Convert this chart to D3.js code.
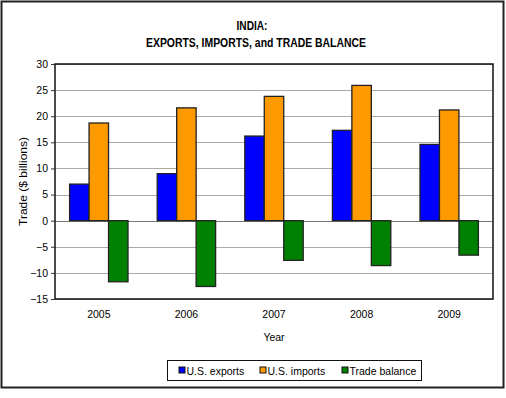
<!DOCTYPE html>
<html>
<head>
<meta charset="utf-8">
<script src="https://cdn.jsdelivr.net/npm/d3@7"></script>
<style>
  body { margin: 0; background: #fff; }
  svg { display: block; font-family: "Liberation Sans", Arial, sans-serif; }
</style>
</head>
<body>
<svg id="chart" width="506" height="398"></svg>
<script>
// data
var years = ["2005", "2006", "2007", "2008", "2009"];
var usExports = [7.0, 9.0, 16.2, 17.3, 14.6];
var usImports = [18.7, 21.6, 23.8, 25.9, 21.2];
var tradeBalance = [-11.7, -12.6, -7.6, -8.6, -6.6];
var seriesNames = ["U.S. exports", "U.S. imports", "Trade balance"];
var seriesColors = ["#0000ff", "#ff9900", "#008000"];
var yTicks = [-15, -10, -5, 0, 5, 10, 15, 20, 25, 30];

var svg = d3.select("#chart");
var margin = {left: 55, top: 64, right: 13, bottom: 99};
var W = 506, H = 398;
var pw = W - margin.left - margin.right, ph = H - margin.top - margin.bottom;

// outer frame
svg.append("rect").attr("x", 1.5).attr("y", 1.5).attr("width", 502).attr("height", 386)
   .attr("fill", "#fff").attr("stroke", "#222").attr("stroke-width", 2);

// title is a narrow face in the original, squeeze it a bit
svg.append("text").attr("x", 252).attr("y", 30).attr("text-anchor", "middle")
   .attr("textLength", 31).attr("lengthAdjust", "spacingAndGlyphs")
   .style("font-size", "12px").style("font-weight", "bold").text("INDIA:");
svg.append("text").attr("x", 256).attr("y", 47).attr("text-anchor", "middle")
   .attr("textLength", 220).attr("lengthAdjust", "spacingAndGlyphs")
   .style("font-size", "12px").style("font-weight", "bold").text("EXPORTS, IMPORTS, and TRADE BALANCE");

var g = svg.append("g").attr("transform", "translate(" + margin.left + "," + margin.top + ")");

var x0 = d3.scaleBand().domain(years).range([0, pw]).paddingInner(1/3).paddingOuter(1/6);
var x1 = d3.scaleBand().domain(d3.range(3)).range([0, x0.bandwidth()]);
var y = d3.scaleLinear().domain([-15, 30]).range([ph, 0]);

// gridlines
g.selectAll(".grid").data(yTicks).enter().append("line")
  .attr("x1", 0).attr("x2", pw)
  .attr("y1", function(d){ return Math.round(y(d)) + 0.5; })
  .attr("y2", function(d){ return Math.round(y(d)) + 0.5; })
  .attr("stroke", function(d){ return d == 0 ? "#777" : "#aaa"; }).attr("stroke-width", 1);

// bars
var rows = years.map(function(yr, i){ return [usExports[i], usImports[i], tradeBalance[i]]; });
var groups = g.selectAll(".yr").data(rows).enter().append("g")
  .attr("transform", function(d, i){ return "translate(" + x0(years[i]) + ",0)"; });
groups.selectAll("rect").data(function(d){ return d; }).enter().append("rect")
  .attr("x", function(d, j){ return x1(j); })
  .attr("y", function(d){ return y(Math.max(0, d)); })
  .attr("width", x1.bandwidth())
  .attr("height", function(d){ return Math.abs(y(d) - y(0)); })
  .attr("fill", function(d, j){ return seriesColors[j]; })
  .attr("stroke", "#222").attr("stroke-width", 1.3);

// plot frame
g.append("rect").attr("width", pw).attr("height", ph)
  .attr("fill", "none").attr("stroke", "#111").attr("stroke-width", 1.5);

// y axis
var yAxis = g.append("g").call(d3.axisLeft(y).tickValues(yTicks).tickSize(4).tickPadding(3));
yAxis.select(".domain").remove();
yAxis.selectAll("line").attr("stroke", "#333");
yAxis.selectAll("text").style("font-size", "10.5px").attr("fill", "#000").style("font-family", "Liberation Sans, Arial, sans-serif");

// x labels
var xAxis = g.append("g").attr("transform", "translate(0," + ph + ")")
  .call(d3.axisBottom(x0).tickSize(0).tickPadding(12));
xAxis.select(".domain").remove();
xAxis.selectAll("text").style("font-size", "10.5px").attr("fill", "#000").style("font-family", "Liberation Sans, Arial, sans-serif");

svg.append("text").attr("x", margin.left + pw / 2).attr("y", 341).attr("text-anchor", "middle")
   .style("font-size", "10.5px").text("Year");
svg.append("text").attr("transform", "translate(27," + (margin.top + ph / 2) + ") rotate(-90)")
   .attr("text-anchor", "middle").attr("textLength", 89).attr("lengthAdjust", "spacingAndGlyphs")
   .style("font-size", "11px").text("Trade ($ billions)");

// legend
var lg = svg.append("g");
lg.append("rect").attr("x", 167.5).attr("y", 360.5).attr("width", 254).attr("height", 20)
  .attr("fill", "#fff").attr("stroke", "#111").attr("stroke-width", 1);
var lx = [179, 260, 342];
seriesNames.forEach(function(name, i){
  lg.append("rect").attr("x", lx[i]).attr("y", 367).attr("width", 6).attr("height", 6)
    .attr("fill", seriesColors[i]).attr("stroke", "#111").attr("stroke-width", 1);
  lg.append("text").attr("x", lx[i] + 7.5).attr("y", 374.5).style("font-size", "10.5px").text(name);
});
</script>
</body>
</html>
